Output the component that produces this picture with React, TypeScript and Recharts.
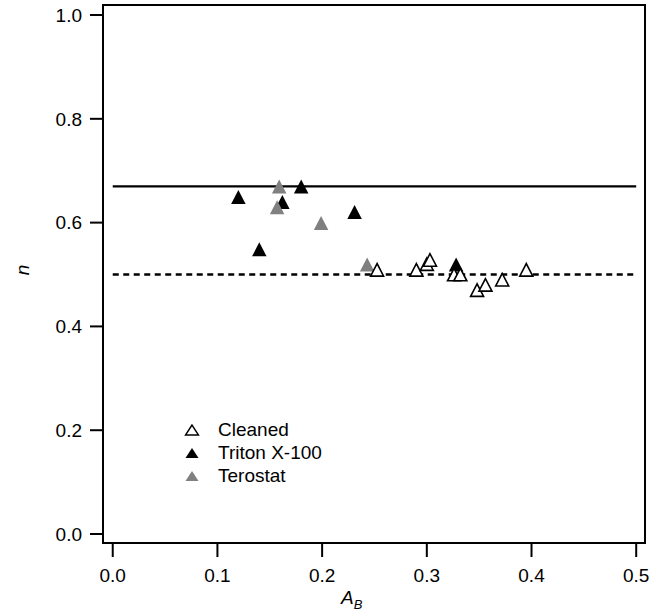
import { Label, ReferenceArea, ReferenceLine, Scatter, ScatterChart, XAxis, YAxis } from "recharts";

const cleanedX = [0.2525, 0.29, 0.3, 0.303, 0.326, 0.332, 0.348, 0.356, 0.372, 0.395];
const cleanedN = [0.505, 0.505, 0.516, 0.524, 0.496, 0.496, 0.466, 0.476, 0.486, 0.505];
const tritonX = [0.12, 0.14, 0.162, 0.18, 0.231, 0.328];
const tritonN = [0.645, 0.544, 0.635, 0.665, 0.616, 0.515];
const terostatX = [0.157, 0.159, 0.199, 0.243];
const terostatN = [0.625, 0.665, 0.595, 0.515];

const xTicks = [0, 0.1, 0.2, 0.3, 0.4, 0.5];
const yTicks = [0, 0.2, 0.4, 0.6, 0.8, 1.0];
const xDomain = [-0.0093, 0.5084];
const yDomain = [-0.0173, 1.0193];
const solidLevel = 0.67;
const dashedLevel = 0.5;

const FONT = "'Liberation Sans', Arial, Helvetica, sans-serif";

const toPoints = (xs: number[], ns: number[]) => xs.map((x, i) => ({ x, n: ns[i] }));

const legendItems = [
  { name: "Cleaned", fill: "#fff", stroke: "#000" },
  { name: "Triton X-100", fill: "#000", stroke: "none" },
  { name: "Terostat", fill: "#808080", stroke: "none" },
];

function triangle(fill: string, outlined: boolean) {
  return (props: any) => {
    const { cx, cy } = props;
    const w = outlined ? 13 : 14.5;
    const h = outlined ? 12.5 : 14;
    const pts = `${cx},${cy - (h * 2) / 3} ${cx - w / 2},${cy + h / 3} ${cx + w / 2},${cy + h / 3}`;
    return (
      <polygon
        points={pts}
        fill={fill}
        stroke={outlined ? "#000" : "none"}
        strokeWidth={outlined ? 1.6 : 0}
      />
    );
  };
}

function LegendBox() {
  return (
    <div
      style={{
        position: "absolute",
        left: 172,
        top: 418,
        fontFamily: FONT,
        fontSize: 19,
        color: "#000",
      }}
    >
      {legendItems.map((item) => (
        <div key={item.name} style={{ display: "flex", alignItems: "center", height: 23 }}>
          <svg width={46} height={23}>
            <polygon
              points="20,7 13.5,17 26.5,17"
              fill={item.fill}
              stroke={item.stroke}
              strokeWidth={1.4}
            />
          </svg>
          <span>{item.name}</span>
        </div>
      ))}
    </div>
  );
}

const axisStroke = { stroke: "#000", strokeWidth: 2 };

export default function App() {
  return (
    <div style={{ position: "absolute", left: 0, top: 0, width: 663, height: 614, background: "#fff" }}>
      <ScatterChart width={663} height={614} margin={{ top: 5, right: 18, bottom: 0, left: 0 }}>
        <XAxis
          type="number"
          dataKey="x"
          domain={xDomain}
          ticks={xTicks}
          allowDataOverflow
          tickFormatter={(v: number) => v.toFixed(1)}
          height={71}
          tickSize={14}
          tickMargin={12}
          axisLine={axisStroke}
          tickLine={axisStroke}
          tick={{ fill: "#000", fontSize: 19, fontFamily: FONT }}
        >
          <Label
            content={() => (
              <text x={341} y={604} fontFamily={FONT} fontSize={19} fill="#000">
                <tspan fontStyle="italic">A</tspan>
                <tspan fontStyle="italic" fontSize={13} dy={5}>B</tspan>
              </text>
            )}
          />
        </XAxis>
        <YAxis
          type="number"
          dataKey="n"
          domain={yDomain}
          ticks={yTicks}
          allowDataOverflow
          tickFormatter={(v: number) => v.toFixed(1)}
          width={103}
          tickSize={13}
          tickMargin={8}
          axisLine={axisStroke}
          tickLine={axisStroke}
          tick={{ fill: "#000", fontSize: 19, fontFamily: FONT }}
        >
          <Label
            content={() => (
              <text
                x={22}
                y={270}
                transform="rotate(-90 22 270)"
                textAnchor="middle"
                dominantBaseline="central"
                fontFamily={FONT}
                fontSize={19}
                fontStyle="italic"
                fill="#000"
              >
                n
              </text>
            )}
          />
        </YAxis>
        <ReferenceArea
          x1={xDomain[0]}
          x2={xDomain[1]}
          y1={yDomain[0]}
          y2={yDomain[1]}
          fill="none"
          fillOpacity={0}
          stroke="#000"
          strokeWidth={2}
          ifOverflow="visible"
        />
        <ReferenceLine
          segment={[{ x: 0, y: solidLevel }, { x: 0.5, y: solidLevel }]}
          stroke="#000"
          strokeWidth={2.3}
        />
        <ReferenceLine
          segment={[{ x: 0, y: dashedLevel }, { x: 0.5, y: dashedLevel }]}
          stroke="#000"
          strokeWidth={2.5}
          strokeDasharray="6 4.5"
        />
        <Scatter
          name="Triton X-100"
          data={toPoints(tritonX, tritonN)}
          shape={triangle("#000", false)}
          isAnimationActive={false}
        />
        <Scatter
          name="Terostat"
          data={toPoints(terostatX, terostatN)}
          shape={triangle("#808080", false)}
          isAnimationActive={false}
        />
        <Scatter
          name="Cleaned"
          data={toPoints(cleanedX, cleanedN)}
          shape={triangle("#fff", true)}
          isAnimationActive={false}
        />
      </ScatterChart>
      <LegendBox />
    </div>
  );
}
